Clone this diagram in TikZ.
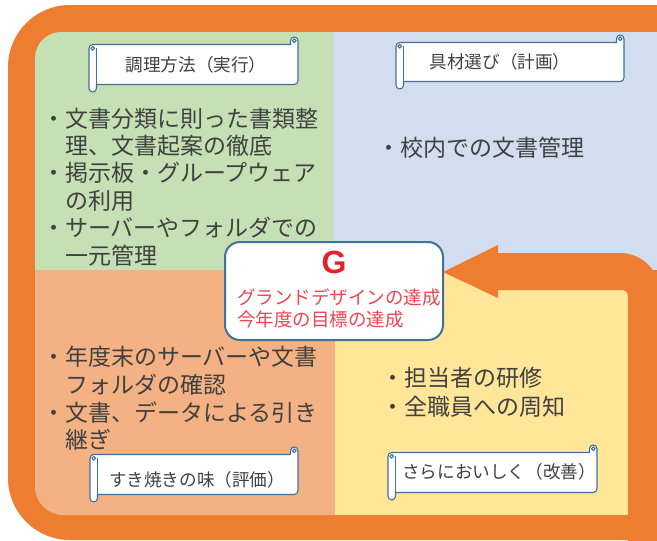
\documentclass[tikz,border=0pt]{standalone}
\usepackage{fontspec}
\newfontfamily\jp{Noto Sans CJK JP}
\newfontfamily\gfont{Liberation Sans}
\definecolor{orng}{HTML}{ED7D31}
\definecolor{grn}{HTML}{C5E0B4}
\definecolor{blu}{HTML}{D2DEEF}
\definecolor{slm}{HTML}{F4B183}
\definecolor{ylw}{HTML}{FFE699}
\definecolor{edge}{HTML}{41719C}
\definecolor{txt}{HTML}{404040}
\definecolor{gred}{RGB}{232,30,40}
\definecolor{tred}{RGB}{238,70,80}
\tikzset{
  body/.style={anchor=base west, inner sep=0pt, text width=320pt, align=left, text=txt},
  title/.style={inner sep=0pt, text=txt, font=\jp\fontsize{17.6}{20}\selectfont},
  scrollline/.style={draw=edge, line width=1.1pt, fill=white, line join=round},
  gbox/.style={draw=edge, line width=2pt, fill=white, rounded corners=15pt, minimum width=218pt, minimum height=98pt, inner sep=0pt},
}
\newcommand\scrollshape[4]{%
 \def\scrch{7.5}\def\scrchh{3.75}\def\scrchq{1.9}%
 \filldraw[scrollline] ({#1+\scrch},{#4-\scrch}) -- ({#3-\scrchh},{#4-\scrch})
   arc[start angle=90,end angle=0,radius=\scrchh] -- (#3,{#2+\scrchh})
   arc[start angle=0,end angle=-180,radius=\scrchh] -- ({#3-\scrch},{#2+\scrch})
   -- ({#1+\scrchh},{#2+\scrch}) arc[start angle=-90,end angle=-180,radius=\scrchh]
   -- (#1,{#4-\scrchh}) arc[start angle=180,end angle=0,radius=\scrchh] -- cycle;
 \draw[scrollline, fill=none] ({#1+\scrch},{#2+\scrch+\scrchh}) -- ({#1+\scrch},{#4-\scrch});
 \draw[scrollline] ({#1+\scrchh},{#2+\scrch+\scrchh}) circle[radius=\scrchq];
 \draw[scrollline] ({#3-\scrchh},{#2+\scrchh}) circle[radius=\scrchq];
}
\begin{document}
\begin{tikzpicture}[x=1pt,y=-1pt]
\useasboundingbox (0,0) rectangle (657,541);
\fill[white] (0,0) rectangle (657,541);
\begin{scope}
\clip (0,0) rectangle (657,541);
% orange frame
\fill[orng] (760,5) -- (70,5) arc[start angle=-90,end angle=-180,radius=62] -- (8,478)
  arc[start angle=180,end angle=90,radius=62] -- (760,540) -- cycle;
% quadrants
\fill[grn] (333,32) -- (61,32) arc[start angle=-90,end angle=-180,radius=26] -- (35,270) -- (333,270) -- cycle;
\fill[slm] (335,270) -- (35,270) -- (35,487) arc[start angle=180,end angle=90,radius=28] -- (335,515) -- cycle;
\fill[blu] (333,32) rectangle (760,270);
\fill[ylw] (335,270) rectangle (628,515);
% cycle arrow
\fill[orng] (498,253) -- (620,253) arc[start angle=-90,end angle=0,radius=40] -- (660,545)
  -- (628,545) -- (628,296) arc[start angle=0,end angle=-90,radius=6] -- (498,290) -- cycle;
\fill[orng] (498,245) -- (443,272) -- (498,298) -- cycle;
\end{scope}
% texts in quadrants
\node[body, font=\jp\fontsize{23}{27.4}\selectfont] (doText) at (42,127)
 {・文書分類に則った書類整\\　理、文書起案の徹底\\・掲示板・グループウェア\\　の利用\\・サーバーやフォルダでの\\　一元管理};
\node[body, font=\jp\fontsize{23}{27.4}\selectfont] (planText) at (377,156.7) {・校内での文書管理};
\node[body, font=\jp\fontsize{23}{27.7}\selectfont] (checkText) at (42,365.7)
 {・年度末のサーバーや文書\\　フォルダの確認\\・文書、データによる引き\\　継ぎ};
\node[body, font=\jp\fontsize{23}{28.5}\selectfont] (actText) at (381,386.7) {・担当者の研修\\・全職員への周知};
% scrolls
\scrollshape{89}{37}{298}{92}
\node[title] (doTitle) at (196,65) {調理方法（実行）};
\scrollshape{396}{35}{624}{89}
\node[title] (planTitle) at (500,62) {具材選び（計画）};
\scrollshape{90}{447}{298}{502}
\node[title] (checkTitle) at (197,480) {すき焼きの味（評価）};
\scrollshape{388}{445}{597}{500}
\node[title] (actTitle) at (499,472) {さらにおいしく（改善）};
% goal box
\node[gbox] (goal) at (334,291) {};
\node[inner sep=0pt, text=gred, font=\gfont\bfseries\fontsize{32}{32}\selectfont] (gLetter) at (334,262) {G};
\node[anchor=base west, inner sep=0pt, text width=220pt, align=left, text=tred, font=\jp\fontsize{18.5}{22}\selectfont] (goalText) at (237,304)
 {グランドデザインの達成\\今年度の目標の達成};
\end{tikzpicture}
\end{document}
